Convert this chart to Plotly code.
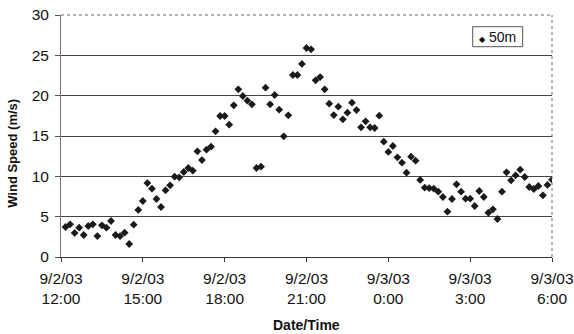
import plotly.graph_objects as go
import pandas as pd

# Wind speed at 50m, 10-minute samples from 9/2/03 12:10 to 9/3/03 6:00
wind_50m = [
    3.72, 4.05, 2.98, 3.64, 2.73, 3.84, 4.05, 2.60, 3.93, 3.64,
    4.46, 2.73, 2.60, 3.02, 1.61, 4.01, 5.83, 6.94, 9.17, 8.47,
    7.19, 6.20, 8.26, 8.88, 9.96, 9.88, 10.54, 11.03, 10.70, 13.10,
    12.02, 13.31, 13.68, 15.58, 17.48, 17.48, 16.40, 18.80, 20.79, 19.96,
    19.38, 18.93, 11.03, 11.20, 20.99, 18.93, 20.08, 18.26, 14.96, 17.56,
    22.56, 22.56, 23.93, 25.91, 25.74, 21.90, 22.31, 20.79, 19.01, 17.60,
    18.64, 17.07, 17.89, 19.13, 18.22, 16.07, 16.82, 16.07, 15.99, 17.52,
    14.30, 13.02, 13.76, 12.36, 11.69, 10.45, 12.44, 11.94, 9.55, 8.60,
    8.55, 8.47, 8.10, 7.44, 5.62, 7.19, 9.01, 8.10, 7.23, 7.23,
    6.32, 8.18, 7.44, 5.50, 5.91, 4.71, 8.10, 10.50, 9.50, 10.12,
    10.83, 9.92, 8.68, 8.43, 8.80, 7.64, 8.93, 9.59,
]
times = pd.date_range("2003-09-02 12:10", periods=len(wind_50m), freq="10min")

tick_vals = pd.date_range("2003-09-02 12:00", "2003-09-03 06:00", freq="3h")
tick_text = ["9/2/03<br>12:00", "9/2/03<br>15:00", "9/2/03<br>18:00", "9/2/03<br>21:00",
             "9/3/03<br>0:00", "9/3/03<br>3:00", "9/3/03<br>6:00"]
y_ticks = [0, 5, 10, 15, 20, 25, 30]
series_name = "50m"

fig = go.Figure()
fig.add_trace(go.Scatter(
    x=times, y=wind_50m, mode="markers", name=series_name,
    marker=dict(symbol="diamond", size=6, color="#1a1a1a"),
    showlegend=False,
))

FAM = "Liberation Sans, Arial, sans-serif"
fig.update_layout(
    width=574, height=334,
    margin=dict(l=61, r=22, t=15, b=77, autoexpand=False),
    paper_bgcolor="white", plot_bgcolor="white",
    font=dict(family=FAM, color="#111", size=15.5),
)
fig.update_xaxes(
    range=[tick_vals[0], tick_vals[-1]], automargin=False,
    tickvals=tick_vals, ticktext=tick_text,
    ticks="outside", ticklen=4, tickcolor="#333", ticklabelstandoff=3,
    showline=True, linecolor="#333", linewidth=1,
    showgrid=False, zeroline=False,
)
fig.update_yaxes(
    range=[0, 30], tickvals=y_ticks, automargin=False,
    ticks="outside", ticklen=5, tickcolor="#555", ticklabelstandoff=3,
    showline=True, linecolor="#777", linewidth=1,
    showgrid=True, gridcolor="#444", gridwidth=1, zeroline=False,
)
# dotted plot-area border on top and right
fig.add_shape(type="line", xref="paper", yref="paper", x0=0, x1=1, y0=1, y1=1,
              line=dict(color="#666", width=1, dash="dot"))
fig.add_shape(type="line", xref="paper", yref="paper", x0=1, x1=1, y0=0, y1=1,
              line=dict(color="#666", width=1, dash="dot"))

# axis titles
fig.add_annotation(text="<b>Wind Speed (m/s)</b>", xref="paper", yref="paper",
                   x=-0.098, y=0.43, textangle=-90, showarrow=False,
                   xanchor="center", yanchor="middle",
                   font=dict(family=FAM, size=13, color="#111"))
fig.add_annotation(text="<b>Date/Time</b>", xref="paper", yref="paper",
                   x=0.5, y=-0.281, showarrow=False,
                   xanchor="center", yanchor="middle",
                   font=dict(family=FAM, size=14, color="#111"))

# legend box
fig.add_shape(type="rect", xref="paper", yref="paper",
              x0=0.8385, x1=0.9403, y0=0.869, y1=0.9517,
              line=dict(color="#555", width=1), fillcolor="white")
fig.add_annotation(text="<span style='font-size:8px'>◆</span> " + series_name,
                   xref="paper", yref="paper", x=0.889, y=0.910,
                   showarrow=False, xanchor="center", yanchor="middle",
                   font=dict(family=FAM, size=14, color="#111"))

fig.write_html("out.html", config={"displayModeBar": False},
               post_script="document.body.style.margin='0';document.body.style.overflow='hidden';")
